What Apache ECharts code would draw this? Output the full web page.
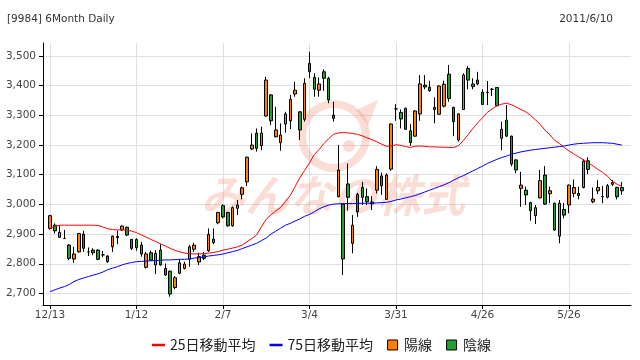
<!DOCTYPE html>
<html><head><meta charset="utf-8">
<script src="https://cdn.jsdelivr.net/npm/echarts@6.0.0/dist/echarts.min.js"></script>
<style>html,body{margin:0;padding:0;background:#fff}#c{width:640px;height:360px}</style>
</head><body><div id="c"></div>
<script>
const dates = ['12/13','12/14','12/15','12/16','12/17','12/20','12/21','12/22','12/24','12/27','12/28','12/29','12/30',
'1/4','1/5','1/6','1/7','1/11','1/12','1/13','1/14','1/17','1/18','1/19','1/20','1/21','1/24','1/25','1/26','1/27','1/28','1/31',
'2/1','2/2','2/3','2/4','2/7','2/8','2/9','2/10','2/14','2/15','2/16','2/17','2/18','2/21','2/22','2/23','2/24','2/25','2/28',
'3/1','3/2','3/3','3/4','3/7','3/8','3/9','3/10','3/11','3/14','3/15','3/16','3/17','3/18','3/22','3/23','3/24','3/25','3/28','3/29','3/30','3/31',
'4/1','4/4','4/5','4/6','4/7','4/8','4/11','4/12','4/13','4/14','4/15','4/18','4/19','4/20','4/21','4/22','4/25','4/26','4/27','4/28',
'5/2','5/6','5/9','5/10','5/11','5/12','5/13','5/16','5/17','5/18','5/19','5/20','5/23','5/24','5/25','5/26','5/27','5/30','5/31',
'6/1','6/2','6/3','6/6','6/7','6/8','6/9','6/10'];

const opens = [2919,2930,2889,2885,2863,2816,2840,2900,2840,2846,2846,2830,2826,2857,2892,2914,2923,2882,2882,2863,
2788,2837,2796,2846,2784,2775,2720,2768,2784,2815,2849,2806,2829,2844,2883,2938,2996,2973,2928,2987,
3034,3076,3187,3240,3198,3298,3369,3228,3208,3271,3282,3372,3312,3287,3475,3428,3385,3447,3425,3301,
3026,3001,3069,2869,3034,3057,3026,3008,3048,3096,3017,3119,3322,3310,3324,3248,3230,3305,3402,3395,
3327,3304,3331,3439,3327,3217,3320,3458,3406,3419,3378,3378,3388,3394,3223,3284,3230,3150,3054,3048,
3006,2962,3022,3099,3036,3004,2893,2983,2998,3037,3037,3057,3147,3009,3046,3026,3024,3068,3057,3057];
const closes = [2962,2911,2906,2885,2818,2833,2902,2852,2840,2837,2815,2830,2807,2893,2888,2927,2897,2852,2854,2833,
2833,2812,2835,2796,2762,2698,2753,2803,2799,2857,2863,2824,2818,2899,2871,2973,2958,2928,2989,2998,
3056,3159,3200,3189,3240,3419,3282,3251,3234,3305,3354,3385,3251,3408,3447,3388,3406,3425,3352,3290,
3116,2816,3024,2930,2975,3024,3009,3002,3118,3063,3099,3271,3322,3288,3253,3208,3315,3406,3396,3383,
3320,3399,3405,3357,3279,3305,3436,3419,3397,3406,3337,3377,3388,3333,3253,3230,3136,3116,3065,3032,
2979,2989,3080,3001,3046,2914,3004,2964,3065,3057,3030,3146,3118,3018,3057,3026,3063,3074,3026,3046];
const lows = [2915,2902,2887,2884,2812,2803,2838,2840,2826,2829,2812,2822,2803,2840,2866,2912,2893,2846,2844,2824,
2784,2810,2765,2794,2759,2689,2714,2765,2781,2790,2840,2796,2812,2840,2866,2933,2953,2925,2925,2964,
3017,3062,3183,3178,3183,3295,3267,3226,3181,3242,3254,3363,3217,3279,3425,3363,3363,3383,3341,3279,
3024,2762,2979,2835,2958,2998,2998,2981,3037,3032,3015,3113,3282,3256,3251,3197,3228,3282,3388,3380,
3273,3302,3327,3346,3230,3211,3318,3388,3388,3402,3335,3335,3365,3331,3183,3227,3129,3105,2992,2998,
2945,2934,3020,2998,3004,2911,2869,2953,2970,3024,3017,3054,3102,3004,3035,3004,3020,3062,3017,3032];
const highs = [2965,2936,2930,2914,2866,2857,2904,2911,2855,2852,2849,2843,2829,2895,2911,2929,2925,2884,2886,2874,
2840,2844,2846,2866,2801,2777,2759,2815,2807,2863,2871,2837,2840,2919,2919,2975,3001,2975,2993,3015,
3060,3161,3239,3256,3262,3430,3372,3329,3273,3312,3369,3413,3314,3425,3515,3442,3428,3455,3430,3346,
3200,3003,3138,2964,3039,3076,3054,3028,3129,3107,3105,3273,3338,3320,3326,3271,3318,3436,3436,3417,
3361,3401,3417,3470,3329,3307,3442,3466,3425,3447,3388,3416,3392,3395,3279,3335,3232,3152,3110,3060,
3009,2998,3116,3129,3060,3006,3015,3005,3067,3084,3060,3152,3159,3057,3082,3062,3069,3082,3060,3076];

const ma25 = [2919,2926,2930,2930,2930,2930,2930,2930,2930,2930,2929,2924,2918,2915,2914,2914,2914,2910,2905,2897,
2890,2882,2875,2867,2860,2852,2845,2840,2836,2834,2833,2833,2834,2836,2838,2841,2846,2849,2853,2857,
2863,2874,2885,2897,2925,2950,2965,2978,2990,3010,3030,3060,3090,3115,3140,3168,3185,3205,3222,3236,
3241,3242,3241,3239,3236,3231,3224,3218,3211,3203,3196,3197,3201,3199,3195,3192,3196,3197,3196,3194,
3194,3193,3193,3192,3192,3198,3215,3235,3256,3275,3292,3310,3322,3332,3338,3341,3336,3328,3320,3312,
3300,3285,3270,3250,3235,3216,3205,3192,3180,3170,3160,3150,3140,3130,3118,3108,3095,3078,3068,3060];
const ma75 = [2706,2712,2718,2723,2730,2740,2747,2752,2757,2762,2766,2772,2780,2785,2790,2796,2801,2804,2807,2808,
2809,2810,2811,2812,2813,2813,2814,2815,2815,2816,2819,2821,2823,2826,2828,2830,2833,2837,2841,2845,
2851,2857,2863,2869,2878,2887,2900,2910,2920,2930,2936,2944,2951,2960,2966,2975,2985,2992,2998,3001,
3002,3003,3003,3003,3003,3004,3004,3004,3005,3006,3007,3010,3015,3018,3022,3026,3030,3036,3042,3048,
3054,3060,3066,3073,3082,3090,3097,3105,3113,3121,3129,3138,3145,3152,3158,3163,3169,3173,3177,3180,
3183,3185,3187,3189,3191,3193,3195,3197,3200,3203,3205,3206,3207,3208,3208,3208,3207,3206,3203,3200];

const yTicks = [2700,2800,2900,3000,3100,3200,3300,3400,3500];
const xTickIdx = [0,18,36,54,72,90,108];

const UP = '#ff8000', DOWN = '#20a030';
const WM = 'rgba(240,120,90,0.25)';
const labelFont = 'DejaVu Sans';
const cjkFont = 'Noto Sans CJK JP';

const chart = echarts.init(document.getElementById('c'), null, {renderer:'canvas'});
chart.setOption({
  animation:false,
  backgroundColor:'#fff',
  title:[
    {text:'[9984] 6Month Daily', left:2, top:9, textStyle:{fontSize:10.5, fontWeight:'normal', color:'#333', fontFamily:labelFont}},
    {text:'2011/6/10', right:22, top:9, textStyle:{fontSize:10.5, fontWeight:'normal', color:'#333', fontFamily:labelFont}}
  ],
  grid:{left:43, right:9, top:43, bottom:55, outerBoundsMode:'none', containLabel:false},
  graphic:[
    {type:'circle', z:1, silent:true, shape:{cx:334, cy:136, r:32}, style:{fill:'none', stroke:WM, lineWidth:8}},
    {type:'circle', z:1, silent:true, shape:{cx:349, cy:146, r:6}, style:{fill:WM}},
    {type:'polygon', z:1, silent:true, shape:{points:[[356,110],[378,100],[368,126]]}, style:{fill:WM}},
    {type:'text', z:1, silent:true, style:{text:'みんなの株式', x:333, y:195, align:'center', verticalAlign:'middle',
      fontSize:44, fontWeight:'bold', fontStyle:'italic', fontFamily:cjkFont, fill:WM}}
  ],
  legend:{
    left:147, top:333, itemGap:14, itemWidth:13, itemHeight:10, symbolKeepAspect:true, selectedMode:false,
    textStyle:{fontSize:14, color:'#222', fontFamily:cjkFont},
    data:[
      {name:'25日移動平均', icon:'path://M0,0H13V2.5H0Z', itemStyle:{color:'#ff0000', borderWidth:0}},
      {name:'75日移動平均', icon:'path://M0,0H13V2.5H0Z', itemStyle:{color:'#0000ff', borderWidth:0}},
      {name:'陽線', icon:'path://M0,0H10V10H0Z', itemStyle:{color:UP, borderColor:'#000', borderWidth:1}},
      {name:'陰線', icon:'path://M0,0H10V10H0Z', itemStyle:{color:DOWN, borderColor:'#000', borderWidth:1}}
    ]
  },
  xAxis:{
    type:'value', min:-1.45, max:120.9,
    axisLine:{show:true, onZero:false, lineStyle:{color:'#000', width:1}},
    axisTick:{show:true, length:4, customValues:xTickIdx, lineStyle:{color:'#000'}},
    axisLabel:{customValues:xTickIdx, formatter:(v)=>dates[Math.round(v)], margin:5, fontSize:10.5, color:'#444', fontFamily:labelFont},
    splitLine:{show:true, lineStyle:{color:'#e0e0e0', width:1}}
  },
  yAxis:{
    type:'value', min:2661, max:3544,
    axisLine:{show:true, onZero:false, lineStyle:{color:'#000', width:1}},
    axisTick:{show:true, length:4, customValues:yTicks, lineStyle:{color:'#000'}},
    axisLabel:{customValues:yTicks, formatter:(v)=>String(v).replace(/\B(?=(\d{3})+(?!\d))/g, ','), margin:7, fontSize:10.5, color:'#444', fontFamily:labelFont},
    splitLine:{show:true, lineStyle:{color:'#e0e0e0', width:1}}
  },
  series:[
    {name:'ローソク足', type:'candlestick', barWidth:3, z:3,
     data:opens.map((o,i)=>[i,o,closes[i],lows[i],highs[i]]),
     itemStyle:{color:UP, color0:DOWN, borderColor:'#000', borderColor0:'#000', borderColorDoji:'#000', borderWidth:1}},
    {name:'25日移動平均', type:'line', z:4, showSymbol:false, symbol:'none', data:ma25.map((v,i)=>[i,v]),
     lineStyle:{color:'#ff0000', width:1}, itemStyle:{color:'#ff0000'}},
    {name:'75日移動平均', type:'line', z:4, showSymbol:false, symbol:'none', data:ma75.map((v,i)=>[i,v]),
     lineStyle:{color:'#0000ff', width:1}, itemStyle:{color:'#0000ff'}},
    {name:'陽線', type:'bar', data:[], itemStyle:{color:UP, borderColor:'#000', borderWidth:1}},
    {name:'陰線', type:'bar', data:[], itemStyle:{color:DOWN, borderColor:'#000', borderWidth:1}}
  ]
});
</script></body></html>
